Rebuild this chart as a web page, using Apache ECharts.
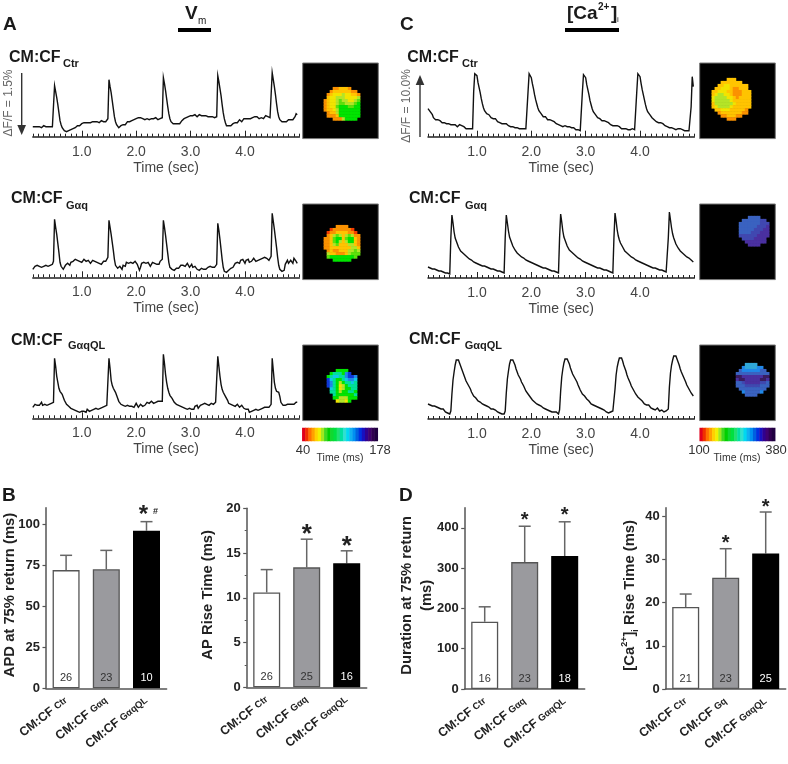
<!DOCTYPE html>
<html><head><meta charset="utf-8"><style>html,body{margin:0;padding:0;background:#fff}#c{width:788px;height:764px}</style>
<script src="https://cdn.jsdelivr.net/npm/echarts@6/dist/echarts.min.js"></script></head><body><div id="c"></div>
<script>
// Optical traces: signal height (arbitrary fluorescence units), sampled every 0.02 s from t = 0.10 s
const sampleStart = 0.1, sampleStep = 0.02;
const vmCtr = [10,9,10,11,10,9,10,10,9,10,11,10,10,9,10,11,10,9,10,12,
 51,45,39,32,24,16,12,9,7,6, 5,5,4,6,5,7,6,8,8,9, 10,11,10,11,12,13,12,14,13,14, 13,14,15,14,13,15,14,15,14,15, 15,14,15,16,14,15,16,15,17,18,
 57,50,44,36,28,20,15,12,11,9, 10,11,10,12,13,12,13,15,14,15, 14,16,15,17,16,18,17,19,18,19, 18,18,19,17,18,18,19,17,18,18, 17,18,17,19,18,17,18,18,17,19,
 59,53,46,38,30,23,18,15,14,13, 12,13,11,13,14,13,15,16,17,18, 18,19,18,20,19,21,20,21,20,22, 21,20,21,22,20,21,20,21,19,21, 20,20,19,20,19,20,18,19,20,20,
 61,55,48,41,32,24,18,14,11,10, 11,9,11,12,13,12,14,15,14,16, 17,16,15,17,18,17,18,19,18,19, 18,20,19,18,20,19,20,19,18,20, 19,20,18,20,21,19,20,20,19,21,
 64,57,50,42,33,25,20,17,16,15, 16,15,14,15,16,17,16,17,18,17, 19,20,23,22];
const vmGq = [8,10,11,9,12,10,11,13,10,12,11,13,12,14,11,13,12,14,13,16,
 58,50,43,34,25,15,11,9,8,10, 12,11,14,13,12,15,14,16,17,18, 16,17,18,16,17,15,16,18,17,16, 15,17,16,14,16,17,15,16,14,15, 16,14,15,13,15,16,14,16,17,20,
 57,50,43,35,27,18,12,10,9,10, 11,10,8,12,13,11,15,16,14,13, 15,17,14,13,16,15,13,12,7,10, 14,12,15,13,14,16,15,13,11,12, 15,13,14,12,13,15,13,16,15,18,
 57,50,42,33,24,15,10,8,8,7, 7,8,9,11,9,11,12,10,12,13, 11,12,14,12,10,11,13,10,9,11, 9,8,10,7,8,9,7,8,10,8, 9,10,8,11,9,10,12,10,11,13,
 54,47,38,28,18,10,6,5,5,6, 7,8,9,11,10,12,14,13,15,16, 14,17,15,18,16,14,17,16,18,15, 17,16,18,19,17,16,18,17,19,18, 17,19,18,20,18,19,18,17,19,21,
 64,56,48,39,30,20,12,8,7,6, 6,7,13,15,17,14,12,17,18,14, 19,20,16,14];
const vmGqQL = [11,12,14,12,13,15,13,14,16,13,15,14,16,13,15,14,13,15,14,16,
 60,52,42,36,30,27,25,24,22,18, 16,14,13,12,11,10,10,9,9,8, 8,7,9,6,8,7,9,7,8,6, 9,8,7,9,8,10,9,8,10,11, 9,11,10,12,11,10,12,11,13,14,
 60,50,38,33,30,28,26,23,20,17, 15,14,14,13,13,12,14,13,14,12, 11,12,13,11,12,15,13,11,13,14, 15,12,14,13,15,16,14,15,16,17, 16,15,17,16,18,17,16,17,18,17,
 64,55,44,36,30,26,23,22,20,18, 16,15,14,13,13,12,12,11,11,10, 10,11,9,11,10,12,9,11,9,12, 11,13,10,12,13,12,14,13,15,14, 14,15,13,14,15,13,14,15,16,16,
 62,52,42,34,29,26,24,22,21,18, 15,15,14,13,13,12,12,13,14,12, 11,12,13,11,10,8,9,7,9,6, 8,7,9,8,10,9,11,8,10,9, 11,10,9,11,10,11,12,11,13,14,
 60,48,36,30,27,27,26,22,16,14, 13,14,13,12,14,13,14,15,14,15, 14,15,16,16];
const caCtr = [28,27,25,24,22,19,18,17,18,17, 16,16,15,14,15,14,14,13,14,13, 13,12,13,12,11,12,11,10,11,12, 10,11,9,10,9,8,10,8,9,8, 9,8, 45,
 63,64,61,54,49,44,38,33,29,26, 25,23,21,22,20,19,20,18,17,18, 16,15,16,14,15,13,14,13,12,13, 12,11,12,10,11,10,11,9,10,9, 10,8,9,8,9,8,7,8,8,45,
 63,63,59,53,48,42,37,33,29,26, 24,23,22,20,19,20,18,17,16,17, 15,16,14,15,14,13,13,12,13,11, 12,10,11,11,9,10,9,10,8,9, 8,9,8,7,8,7,8,6,8,45,
 62,63,59,52,47,42,36,32,28,25, 24,22,21,19,20,18,17,16,15,16, 14,15,13,14,13,12,13,11,12,11, 10,11,9,10,10,8,9,8,9,8, 9,7,8,7,6,8,7,7,6,45,
 63,63,60,53,47,42,37,32,28,25, 23,22,20,19,18,17,17,15,16,14, 13,14,12,13,12,11,11,10,11,9, 10,9,9,8,9,7,8,8,7,8, 6,7,8,6,7,6,7,6,5,30,
 60,50];
const caGq = [11,10,10,10,9,9,9,8,8,8,7,7,7,6,6,6,5,5,5,4,4,
 40,63,55,46,40,37,34,31,29,27, 26,25,24,23,22,21,20,19,19,18, 17,16,16,15,15,14,14,13,13,12, 12,12,11,11,10,10,10,9,9,9, 8,8,8,7,7,7,6,6,6,5,
 40,63,55,47,41,38,35,32,30,28, 27,25,24,23,22,21,21,20,19,18, 18,17,16,16,15,15,14,14,13,13, 12,12,11,11,11,10,10,10,9,9, 8,8,8,7,7,7,6,6,6,5,
 40,64,56,47,41,38,35,32,30,28, 27,26,25,24,23,22,21,20,19,19, 18,17,17,16,16,15,14,14,13,13, 13,12,12,11,11,10,10,10,9,9, 9,8,8,8,7,7,7,6,6,5,
 40,65,57,48,42,38,35,33,31,29, 27,26,25,24,23,22,21,21,20,19, 18,18,17,16,16,15,15,14,14,13, 13,12,12,11,11,11,10,10,10,9, 9,9,8,8,8,7,7,7,6,6,
 40,66,58,50,44,40,37,34,32,30, 28,27,26,25,24,23,22,21,21,20, 19,18,17,16];
const caGqQL = [15,15,14,14,13,14,13,13,12,12,11,12,10,9,10,8,7,8,6,5,5,
 8,25,39,47,54,59,60,59,56,53, 50,47,44,41,38,36,34,32,30,27, 25,23,22,21,19,18,18,17,16,15, 15,14,13,13,12,12,11,10,11,10, 9,9,8,7,8,6,7,5,6,5,
 8,26,40,48,55,59,60,59,57,54, 50,48,44,42,40,37,35,33,31,28, 26,25,23,22,20,19,18,17,16,15, 15,14,14,13,12,11,12,10,11,9, 10,8,9,7,8,7,6,7,5,5,
 9,28,42,50,56,60,61,60,58,55, 51,48,45,43,41,40,37,34,32,29, 27,25,24,23,21,20,18,18,16,15, 14,14,12,13,11,12,10,11,9,10, 8,9,8,7,8,6,7,7,8,8,
 9,30,44,52,57,61,62,61,58,54, 51,48,44,41,39,36,33,31,29,27, 25,24,22,21,20,18,18,16,15,16, 14,13,14,12,11,12,10,11,9,10, 11,9,8,7,9,8,7,9,8,8,
 10,32,46,54,59,63,64,63,60,57, 54,50,47,45,42,40,37,34,32,30, 28,26,25,23];
const timeTickLabels = [1,2,3,4];

// Bar panels
const catCtr = 'Ctr', catGq = 'G\u03B1q', catGq2 = 'Gq', catQL = 'G\u03B1qQL';
const apdMean = [72,72.5,96],    apdErr = [81,84,101.5],   apdN = [26,23,10];
const riseMean = [10.6,13.4,13.85], riseErr = [13.15,16.55,15.25], riseN = [26,25,16];
const durMean = [167,315,330],   durErr = [204,404,415],   durN = [16,23,18];
const caRiseMean = [19,25.8,31.4], caRiseErr = [22,32.5,41], caRiseN = [21,23,25];

// Maps: one letter per pixel, see mapPalette
const mapPalette = {R:'#f23c00',O:'#fb9200',Y:'#ffc400',y:'#f2e400',L:'#b4e428',G:'#5ee00c',g:'#00e400',T:'#00e09a',C:'#10c8e8',S:'#2088e8',B:'#1038d8',c:'#30a8d8',n:'#3a62c0',m:'#4048b0',v:'#4a30a0',P:'#3a1c60'};
const mapVmCtr = ['...OOYYYO...','..OYYYYYYOO.','.OYyyyLyyYYO','.YyyLLLyyyyL','OYyyLGLLyyLG','OYyyLGGLLLGg','OYyyGgggGGgg','OYYyLggggggg','.OYYLggggggg','.OOOYggggggg','...OOOLgggg.'];
const mapVmGq = ['....OOOO....','..ROOOOOOR..','.ROOYYYYOOR.','.OYLGLYLGLOO','OOYGggYGggYO','OOYGgLYLggYO','OOYLGYYYLLYO','OOYYYYYYYLLY','.OYOOYYYLLGL','.LYYOOOYLGGG','.GggggggggG.','...gggggg...'];
const mapVmQL = ['...gggg...','.gTTTgSB..','gTCCTTSBBS','BCTggTCSSC','BSTgLgTTCT','BSTgyLgTTT','.CTgyLggTT','.TTgLggTTg','..TggggggT','..ggLLLggg','...yLLyg..'];
const mapCaCtr = ['.....YYY.....','...YYYYYYY...','..YYyyYYYYYY.','.YYyyyYOOYYY.','YYyyyYYOOOYYY','YyLLyyYOOOYYY','yLLLLyyYOYYYY','yLLLLLyYYYYYY','YLLLLLLyYYYYY','YyLLLLyYYYYYY','.YYyyyYYYYYO.','..OYYYYYYYOO.','...OOYYYOO...','.....OOO.....'];
const mapCaGq = ['...nnnn...','.nnnnnnmm.','nnnnnnnmmm','nnnnnnmmmv','nnnnnmmmvv','nnnnmmmvvv','mmmmmmvvvv','.mmmmvvvv.','..vvvvvvv.','...vvvv...'];
const mapCaQL = ['...cccc....','..SccccSS..','.nSSSSSSnn.','nnnnnnnnnnn','PPvvvvvvvPP','vPPvvvvvPPv','nnmvvvvvmmn','nnnmmmmmnnn','.nnnnnnnnn.','..SnnnnnS..','...nnnn....'];
const barColors = ['#e0001c','#f03000','#ff7000','#ffa000','#ffd000','#f0f000','#a0e820','#40d820','#00d000','#10d830','#00e040','#20e070','#00e0a0','#30e0d0','#00d8f0','#10b0f0','#0090f0','#0060e0','#0030e0','#1810c0','#300090','#400070','#300050','#200040'];

const FONT = '"Liberation Sans", Arial, sans-serif';
const grids = [], xAxes = [], yAxes = [], series = [], gfx = [];
const NOB = {outerBoundsMode:'none',containLabel:false};

function addTrace(vals, left, width, bottom) {
  const g = grids.length, h = 70;
  grids.push({...NOB,left, width, top: bottom - h, height: h});
  const base = {type:'value', gridIndex:g, min:0.1, max:5, position:'bottom'};
  xAxes.push({...base, interval:0.1, axisLine:{lineStyle:{color:'#222',width:1.5}}, axisTick:{inside:true,length:3,lineStyle:{color:'#222',width:1}}, axisLabel:{show:false}, splitLine:{show:false}});
  const xi = xAxes.length;
  xAxes.push({...base, axisLine:{show:false}, splitLine:{show:false},
    axisTick:{inside:true,length:6,customValues:timeTickLabels,lineStyle:{color:'#222',width:1}},
    axisLabel:{customValues:timeTickLabels,formatter:v=>Number(v).toFixed(1),margin:8,color:'#444',fontSize:14,fontFamily:FONT},
    name:'Time (sec)',nameLocation:'middle',nameGap:24,nameTextStyle:{color:'#444',fontSize:14,fontFamily:FONT}});
  const yi = yAxes.length;
  yAxes.push({type:'value',gridIndex:g,min:0,max:h,show:false,splitLine:{show:false}});
  series.push({type:'line',xAxisIndex:xi-1,yAxisIndex:yi,symbol:'none',silent:true,animation:false,clip:false,
    lineStyle:{color:'#111',width:1.4,join:'miter'},
    data:vals.map((v,i)=>[sampleStart+sampleStep*i,v])});
}

function addMap(rows, left, top, cx, cy) {
  const g = grids.length;
  grids.push({...NOB,left,top,width:75.6,height:75.6,show:true,backgroundColor:'#000',borderColor:'#777',borderWidth:1});
  const cats = Array.from({length:25},(_,i)=>i);
  xAxes.push({type:'category',gridIndex:g,data:cats,show:false});
  yAxes.push({type:'category',gridIndex:g,data:cats,show:false,inverse:true});
  const data = [];
  rows.forEach((r,y)=>[...r].forEach((ch,x)=>{ if(ch!=='.') data.push({value:[x+cx,y+cy,1],itemStyle:{color:mapPalette[ch]}}); }));
  series.push({type:'heatmap',xAxisIndex:xAxes.length-1,yAxisIndex:yAxes.length-1,data,silent:true,animation:false,emphasis:{disabled:true}});
}

function addColorbar(left, top) {
  const g = grids.length;
  grids.push({...NOB,left,top,width:75.5,height:13,show:true,backgroundColor:'#fff',borderColor:'#999',borderWidth:0});
  xAxes.push({type:'category',gridIndex:g,data:barColors.map((_,i)=>i),show:false});
  yAxes.push({type:'category',gridIndex:g,data:[0],show:false});
  series.push({type:'heatmap',xAxisIndex:xAxes.length-1,yAxisIndex:yAxes.length-1,silent:true,animation:false,emphasis:{disabled:true},
    data:barColors.map((c,i)=>({value:[i,0,1],itemStyle:{color:c}}))});
}

function addBars(cfg) {
  const g = grids.length;
  grids.push({...NOB,left:cfg.left,width:cfg.width,top:cfg.top,height:cfg.bottom-cfg.top});
  const axisCol = '#555';
  xAxes.push({type:'category',gridIndex:g,data:cfg.cats,axisLine:{lineStyle:{color:axisCol,width:1.5}},axisTick:{show:false},
    axisLabel:{rotate:38,margin:11,interval:0,formatter:c=>`{a|CM:CF} {s|${c}}`,
      rich:{a:{fontSize:12.4,fontWeight:'bold',fontFamily:FONT,color:'#222'},s:{fontSize:9.5,fontWeight:'bold',fontFamily:FONT,color:'#222'}}}});
  yAxes.push({type:'value',gridIndex:g,min:0,max:cfg.max,
    axisLine:{show:true,lineStyle:{color:axisCol,width:1.5}},splitLine:{show:false},
    axisTick:{show:true,length:3.5,customValues:cfg.ticks,lineStyle:{color:axisCol,width:1.2}},
    axisLabel:{customValues:cfg.ticks,margin:6,color:'#222',fontSize:13,fontWeight:'bold',fontFamily:FONT},
    minorTick:cfg.minor?{show:true,splitNumber:2,length:2,lineStyle:{color:axisCol}}:{show:false},
    name:cfg.name,nameLocation:'middle',nameGap:cfg.gap,nameMoveOverlap:false,
    nameTextStyle:{color:'#222',fontSize:14.8,fontWeight:'bold',fontFamily:FONT,lineHeight:20,rich:cfg.rich,padding:[0,0,0,6]}});
  const xi = xAxes.length-1, yi = yAxes.length-1;
  const fills = ['#fff','#9a9a9e','#000'], labelCols = ['#333','#333','#fff'];
  series.push({type:'bar',xAxisIndex:xi,yAxisIndex:yi,barWidth:27,silent:true,animation:false,
    data:cfg.mean.map((v,i)=>({value:v,itemStyle:{color:fills[i],borderColor:i==2?'#000':'#555',borderWidth:1.3},
      label:{show:true,position:'insideBottom',distance:5,formatter:String(cfg.n[i]),color:labelCols[i],fontSize:11,fontFamily:FONT}}))});
  series.push({type:'custom',xAxisIndex:xi,yAxisIndex:yi,silent:true,animation:false,clip:false,z:1,
    encode:{x:0,y:1},
    data:cfg.err.map((e,i)=>[i,e,cfg.mean[i]]),
    renderItem(p,api){
      const i=api.value(0), top=api.coord([i,api.value(1)]), bot=api.coord([i,api.value(2)]);
      const ln={stroke:'#666',lineWidth:1.5};
      const kids=[{type:'line',shape:{x1:top[0],y1:top[1],x2:bot[0],y2:bot[1]},style:ln},
                  {type:'line',shape:{x1:top[0]-6,y1:top[1],x2:top[0]+6,y2:top[1]},style:ln}];
      const st=cfg.stars[i];
      if(st){
        kids.push({type:'text',style:{text:'*',x:top[0]+(st.dx||0),y:top[1]-cfg.starOff,align:'center',verticalAlign:'middle',fontSize:cfg.starSize,fontWeight:'bold',fontFamily:FONT,fill:'#222'}});
        if(st.hash) kids.push({type:'text',style:{text:'#',x:top[0]+9,y:top[1]-10,align:'center',verticalAlign:'middle',fontSize:9,fontWeight:'bold',fontFamily:FONT,fill:'#222'}});
      }
      return {type:'group',children:kids};
    }});
}

function txt(text,x,y,size,opt={}) {
  gfx.push({type:'text',x,y,rotation:opt.rot||0,z:50,silent:true,style:{text,fontSize:size,fontWeight:opt.bold===false?'normal':'bold',fontFamily:FONT,fill:opt.fill||'#1a1a1a',align:opt.align||'left',verticalAlign:'middle'}});
}

// ---- traces
const AL=32.8, AW=266.6, CL=428, CW=266.4;
addTrace(vmCtr,AL,AW,136.7); addTrace(vmGq,AL,AW,277.3); addTrace(vmGqQL,AL,AW,418.3);
addTrace(caCtr,CL,CW,136.7); addTrace(caGq,CL,CW,278); addTrace(caGqQL,CL,CW,419);
// ---- maps
addMap(mapVmCtr,302.7,63,7,8); addMap(mapVmGq,302.7,204,7,7); addMap(mapVmQL,302.7,345,8,8);
addMap(mapCaCtr,699.7,63,4,5); addMap(mapCaGq,699.7,204,13,4); addMap(mapCaQL,699.7,345,12,6);
addColorbar(302.3,428); addColorbar(699.7,428);
// ---- bars
addBars({left:46,width:120.6,top:507.7,bottom:688.3,max:110,ticks:[0,25,50,75,100],cats:[catCtr,catGq,catQL],mean:apdMean,err:apdErr,n:apdN,
  stars:[null,null,{hash:true,dx:-3}],starSize:24,starOff:6,name:'APD at 75% return (ms)',gap:26});
addBars({left:246.7,width:120,top:508.3,bottom:687.3,max:20,ticks:[0,5,10,15,20],minor:true,cats:[catCtr,catGq,catQL],mean:riseMean,err:riseErr,n:riseN,
  stars:[null,{},{}],starSize:26,starOff:4,name:'AP Rise Time (ms)',gap:29});
addBars({left:464.7,width:120,top:507.7,bottom:689,max:450,ticks:[0,100,200,300,400],cats:[catCtr,catGq,catQL],mean:durMean,err:durErr,n:durN,
  stars:[null,{},{}],starSize:20,starOff:6,name:'Duration at 75% return\n(ms)',gap:27.5});
addBars({left:665.7,width:120,top:507.7,bottom:689,max:42,ticks:[0,10,20,30,40],cats:[catCtr,catGq2,catQL],mean:caRiseMean,err:caRiseErr,n:caRiseN,
  stars:[null,{},{}],starSize:20,starOff:5,name:'{t|[Ca}{u|2+}{t|]}{d|i}{t| Rise Time (ms)}',gap:26,
  rich:{t:{fontSize:14.8,fontWeight:'bold',fontFamily:FONT,color:'#222'},u:{fontSize:9,fontWeight:'bold',fontFamily:FONT,color:'#222',verticalAlign:'top'},d:{fontSize:9,fontWeight:'bold',fontFamily:FONT,color:'#222',verticalAlign:'bottom'}}});

// ---- letters and headings
txt('A',3,25,19); txt('C',400,25,19); txt('B',2,495.5,19); txt('D',399,495.5,19);
txt('V',185,14,19); txt('m',198,21,10,{bold:false});
gfx.push({type:'rect',silent:true,shape:{x:178,y:28,width:33,height:4},style:{fill:'#000'}});
txt('[Ca',567,14,19); txt('2+',598,7,10); txt(']',611,14,19); txt('i',617,20,8,{bold:false});
gfx.push({type:'rect',silent:true,shape:{x:565,y:28,width:54,height:4},style:{fill:'#000'}});
[[9,58,catCtr,63,64],[11,199,catGq,66,205.7],[11,340.7,catQL,68,345.7],
 [407.3,58,catCtr,462,64],[409,199,catGq,465,205.7],[409,340,catQL,464.7,345.5]].forEach(a=>{
  txt('CM:CF',a[0],a[1],16); txt(a[2],a[3],a[4],11);
});
// calibration arrows
txt('\u0394F/F = 1.5%',8.7,103,12,{bold:false,fill:'#666',align:'center',rot:Math.PI/2});
gfx.push({type:'line',silent:true,shape:{x1:21.7,y1:73,x2:21.7,y2:127},style:{stroke:'#333',lineWidth:1.4}});
gfx.push({type:'polygon',silent:true,shape:{points:[[17.3,125],[26,125],[21.7,135]]},style:{fill:'#333'}});
txt('\u0394F/F = 10.0%',406.7,106,12,{bold:false,fill:'#666',align:'center',rot:Math.PI/2});
gfx.push({type:'line',silent:true,shape:{x1:420,y1:137,x2:420,y2:83},style:{stroke:'#333',lineWidth:1.4}});
gfx.push({type:'polygon',silent:true,shape:{points:[[415.7,85],[424.3,85],[420,75]]},style:{fill:'#333'}});
// colour bar labels
[[303,'40'],[380,'178'],[699,'100'],[776,'380']].forEach(a=>txt(a[1],a[0],450,13,{bold:false,fill:'#333',align:'center'}));
txt('Time (ms)',340,458,10.5,{bold:false,fill:'#333',align:'center'});
txt('Time (ms)',737,458,10.5,{bold:false,fill:'#333',align:'center'});

const chart = echarts.init(document.getElementById('c'),null,{renderer:'canvas'});
chart.setOption({animation:false,backgroundColor:'#fff',textStyle:{fontFamily:FONT},grid:grids,xAxis:xAxes,yAxis:yAxes,series,graphic:gfx});
</script></body></html>
